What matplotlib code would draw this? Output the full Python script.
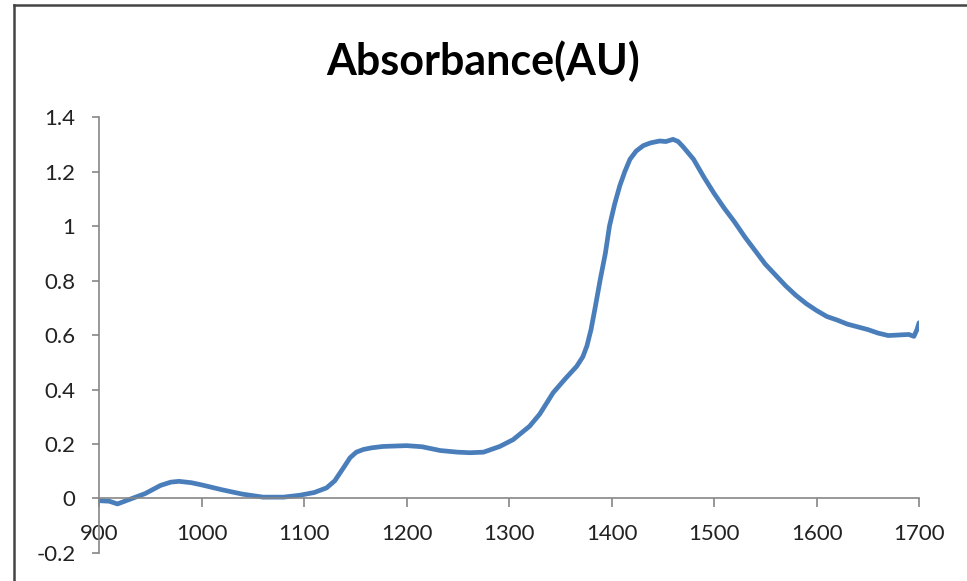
import numpy as np
import matplotlib.pyplot as plt
from matplotlib.lines import Line2D

# 波长 (nm) 与吸光度
wavelength = [900, 910, 918, 930, 945, 960, 970, 978, 990, 1000, 1020, 1040, 1060,
              1080, 1096, 1110, 1122, 1130, 1138, 1145, 1151, 1158, 1166, 1177,
              1200, 1215, 1233, 1250, 1262, 1275, 1291, 1304, 1320, 1330, 1343,
              1355, 1366, 1372, 1376, 1380, 1384, 1389, 1394, 1398, 1403, 1408,
              1413, 1418, 1424, 1431, 1438, 1447, 1453, 1460, 1465, 1470, 1480,
              1490, 1500, 1510, 1520, 1530, 1540, 1550, 1560, 1570, 1580, 1590,
              1600, 1610, 1620, 1630, 1640, 1650, 1660, 1670, 1680, 1690, 1695,
              1698, 1700]
absorbance = [-0.008, -0.01, -0.02, -0.003, 0.018, 0.048, 0.06, 0.063, 0.058, 0.05,
              0.032, 0.016, 0.005, 0.005, 0.012, 0.022, 0.039, 0.065, 0.11, 0.15,
              0.17, 0.18, 0.186, 0.191, 0.194, 0.19, 0.176, 0.17, 0.168, 0.17,
              0.191, 0.216, 0.265, 0.31, 0.388, 0.44, 0.485, 0.52, 0.56, 0.62,
              0.7, 0.804, 0.9, 1.0, 1.08, 1.147, 1.2, 1.245, 1.275, 1.295, 1.305,
              1.312, 1.31, 1.318, 1.31, 1.29, 1.245, 1.18, 1.12, 1.065, 1.015,
              0.96, 0.91, 0.86, 0.82, 0.78, 0.745, 0.715, 0.69, 0.668, 0.655,
              0.64, 0.63, 0.62, 0.607, 0.598, 0.6, 0.602, 0.595, 0.62, 0.645]

x_ticks = [900, 1000, 1100, 1200, 1300, 1400, 1500, 1600, 1700]
y_ticks = [-0.2, 0, 0.2, 0.4, 0.6, 0.8, 1, 1.2, 1.4]
y_labels = ['-0.2', '0', '0.2', '0.4', '0.6', '0.8', '1', '1.2', '1.4']


def main():
    plt.rcParams['font.family'] = ['Lato', 'DejaVu Sans']
    fig = plt.figure(figsize=(9.67, 5.81), dpi=100)
    ax = fig.add_axes([0.1024, 0.0482, 0.848, 0.7504])

    ax.plot(wavelength, absorbance, color='#4A7EBB', lw=3.4,
            solid_capstyle='round', solid_joinstyle='round')

    ax.set_xlim(900, 1700)
    ax.set_ylim(-0.2, 1.4)
    ax.set_xticks(x_ticks)
    ax.set_yticks(y_ticks)
    ax.set_yticklabels(y_labels)

    # x轴放在 y=0 处
    for s in ['top', 'right']:
        ax.spines[s].set_visible(False)
    ax.spines['bottom'].set_position(('data', 0))
    for s in ['left', 'bottom']:
        ax.spines[s].set_color('#868686')
        ax.spines[s].set_linewidth(1.2)
    ax.tick_params(axis='y', direction='out', length=5, width=1.2, color='#868686',
                   pad=12, labelsize=16, labelcolor='#222222')
    ax.tick_params(axis='x', direction='out', length=6.5, width=1.2, color='#868686',
                   pad=12, labelsize=16, labelcolor='#222222')

    fig.text(0.5, 0.895, 'Absorbance(AU)', ha='center', va='center',
             fontsize=31, fontweight='bold')

    # 外框 (只有上边和左边可见)
    fig.add_artist(Line2D([14 / 967, 14 / 967], [0, 1 - 5 / 581],
                          transform=fig.transFigure, color='#444444', lw=1.8))
    fig.add_artist(Line2D([14 / 967, 1], [1 - 5 / 581, 1 - 5 / 581],
                          transform=fig.transFigure, color='#444444', lw=1.8))

    plt.savefig('out.png', dpi=100)


if __name__ == '__main__':
    main()
